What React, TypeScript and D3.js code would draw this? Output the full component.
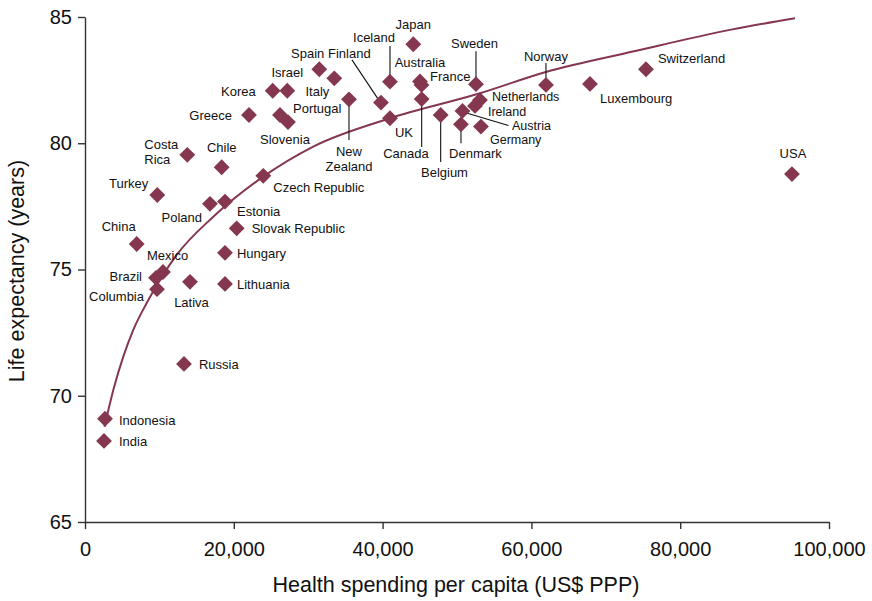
import React, { useEffect, useRef } from "react";
import * as d3 from "d3";

// countries, spending (US$ PPP) and life expectancy
const countries = [
  "India", "Indonesia", "Russia", "Columbia", "Brazil", "Mexico", "Lativa", "Lithuania",
  "Hungary", "Slovak Republic", "Estonia", "Poland", "China", "Turkey", "Costa Rica", "Chile",
  "Czech Republic", "Greece", "Korea", "Israel", "Portugal", "Slovenia", "Spain", "Italy",
  "Finland", "New Zealand", "Iceland", "UK", "Japan", "Australia", "France", "Canada",
  "Belgium", "Sweden", "Denmark", "Austria", "Germany", "Ireland", "Netherlands", "Norway",
  "Luxembourg", "Switzerland", "USA",
];
const spending = [
  2554, 2688, 13306, 9677, 9542, 10483, 14112, 18816,
  18816, 20388, 18816, 16800, 6948, 9717, 13749, 18372,
  23964, 22042, 25227, 27189, 26208, 27283, 31490, 33506,
  39782, 35482, 40992, 40992, 44124, 45024, 45226, 45252,
  47806, 52550, 50534, 50736, 53222, 52416, 53088, 61958,
  67872, 75398, 95021,
];
const lifeExpectancy = [
  68.21, 69.09, 71.26, 74.22, 74.67, 74.9, 74.51, 74.43,
  75.66, 76.63, 77.69, 77.6, 76.01, 77.95, 79.54, 79.05,
  78.71, 81.12, 82.08, 82.08, 81.12, 80.84, 82.93, 82.57,
  81.61, 81.74, 82.44, 80.99, 83.92, 82.45, 82.31, 81.75,
  81.12, 82.34, 80.75, 81.28, 80.66, 81.48, 81.71, 82.31,
  82.35, 82.93, 78.78,
];

// trend curve, points
const trendSpending = [2621, 3804, 5148, 6492, 8292, 12324, 17244, 23964, 30684, 40992, 53088, 62052, 73651, 86688, 95424];
const trendLife = [68.77, 70.23, 71.55, 72.61, 73.67, 75.58, 77.09, 78.68, 79.87, 80.99, 81.98, 82.83, 83.63, 84.49, 84.95];

const xTicks = [0, 20000, 40000, 60000, 80000, 100000];
const yTicks = [65, 70, 75, 80, 85];

type LabelSpec = {
  dx: number;
  dy: number;
  anchor?: string;
  lines?: string[];
  leader?: [number, number, number, number];
  size?: number;
};

// label placement relative to each marker
const labelLayout: Record<string, LabelSpec> = {
  India: { dx: 15, dy: 0 },
  Indonesia: { dx: 14, dy: 1 },
  Russia: { dx: 15, dy: 0 },
  Columbia: { dx: -13, dy: 7, anchor: "end" },
  Brazil: { dx: -14, dy: -2, anchor: "end" },
  Mexico: { dx: -16, dy: -17 },
  Lativa: { dx: 1.5, dy: 20, anchor: "middle" },
  Lithuania: { dx: 12, dy: 0 },
  Hungary: { dx: 12, dy: 0 },
  "Slovak Republic": { dx: 15, dy: 0 },
  Estonia: { dx: 12, dy: 9 },
  Poland: { dx: -8, dy: 13, anchor: "end" },
  China: { dx: -18, dy: -18, anchor: "middle" },
  Turkey: { dx: -9, dy: -12, anchor: "end" },
  "Costa Rica": { dx: -43, dy: -11, lines: ["Costa", "Rica"] },
  Chile: { dx: 0, dy: -20.5, anchor: "middle" },
  "Czech Republic": { dx: 10, dy: 11 },
  Greece: { dx: -17, dy: 0, anchor: "end" },
  Korea: { dx: -17, dy: 0, anchor: "end" },
  Israel: { dx: 0, dy: -19, anchor: "middle" },
  Portugal: { dx: 13, dy: -7 },
  Slovenia: { dx: -3, dy: 17, anchor: "middle" },
  Spain: { dx: 5, dy: -16.6, anchor: "end" },
  Italy: { dx: -5, dy: 13, anchor: "end" },
  Finland: { dx: -53, dy: -50, leader: [-29, -42.7, -3, -3.7] },
  "New Zealand": { dx: 0, dy: 51.4, anchor: "middle", lines: ["New", "Zealand"], leader: [0, 0, 0, 40.7] },
  Iceland: { dx: -16, dy: -44.7, anchor: "middle", leader: [0, -35.7, 0, 0] },
  UK: { dx: 5, dy: 14 },
  Japan: { dx: 0, dy: -20, anchor: "middle" },
  Australia: { dx: 0, dy: -19.2, anchor: "middle" },
  France: { dx: 8.5, dy: -9.3 },
  Canada: { dx: -15.7, dy: 54.3, anchor: "middle", leader: [0, 0, 0, 48] },
  Belgium: { dx: 3.8, dy: 56.7, anchor: "middle", leader: [0, 0, 0, 47] },
  Sweden: { dx: -1.5, dy: -41, anchor: "middle", leader: [0, -33, 0, 0] },
  Denmark: { dx: 14.5, dy: 29, anchor: "middle", leader: [0, 0, 0, 19] },
  Austria: { dx: 49.5, dy: 14.8, leader: [4, 2, 46, 14.5], size: 12.5 },
  Germany: { dx: 9, dy: 13.5, size: 12.5 },
  Ireland: { dx: 13, dy: 5.8, size: 12.5 },
  Netherlands: { dx: 12, dy: -3, size: 12.5 },
  Norway: { dx: 0, dy: -29, anchor: "middle", leader: [0, -22, 0, 0] },
  Luxembourg: { dx: 10, dy: 13.7 },
  Switzerland: { dx: 12, dy: -11.6 },
  USA: { dx: 1, dy: -20.7, anchor: "middle" },
};

const maroon = "#84374e";
const font = "'Liberation Sans', Arial, Helvetica, sans-serif";

export default function App() {
  const ref = useRef<SVGSVGElement>(null);

  useEffect(() => {
    const svg = d3.select(ref.current);
    svg.selectAll("*").remove();

    const x = d3.scaleLinear().domain([0, 100000]).range([85, 829]);
    const y = d3.scaleLinear().domain([65, 85]).range([522, 17]);

    const data = countries.map((c, i) => ({ name: c, x: spending[i], y: lifeExpectancy[i] }));
    const trend = trendSpending.map((s, i) => [s, trendLife[i]] as [number, number]);

    // axes
    svg.append("g")
      .attr("transform", "translate(85,0)")
      .call(d3.axisLeft(y).tickValues(yTicks).tickSize(7).tickSizeOuter(0).tickPadding(6))
      .call((g) => g.selectAll("text").attr("font-size", 20))
      .call((g) => g.selectAll("line,path").attr("stroke", "#333").attr("stroke-width", 1.4));

    svg.append("g")
      .attr("transform", "translate(0,522)")
      .call(d3.axisBottom(x).tickValues(xTicks).tickFormat(d3.format(",")).tickSize(7).tickSizeOuter(0).tickPadding(13))
      .call((g) => g.selectAll("text").attr("font-size", 20))
      .call((g) => g.selectAll("line,path").attr("stroke", "#333").attr("stroke-width", 1.4));

    svg.selectAll(".tick text").attr("fill", "#111").attr("font-family", font);

    svg.append("text")
      .attr("x", 456)
      .attr("y", 585)
      .attr("text-anchor", "middle")
      .attr("dominant-baseline", "central")
      .attr("font-size", 21.5)
      .attr("font-family", font)
      .attr("fill", "#111")
      .text("Health spending per capita (US$ PPP)");

    svg.append("text")
      .attr("transform", "translate(17,271) rotate(-90)")
      .attr("text-anchor", "middle")
      .attr("dominant-baseline", "central")
      .attr("font-size", 21.5)
      .attr("font-family", font)
      .attr("fill", "#111")
      .text("Life expectancy (years)");

    // trend curve
    const line = d3.line<[number, number]>()
      .x((d) => x(d[0]))
      .y((d) => y(d[1]))
      .curve(d3.curveMonotoneX);
    svg.append("path")
      .attr("d", line(trend))
      .attr("fill", "none")
      .attr("stroke", maroon)
      .attr("stroke-width", 2);

    // leaders
    const labels = svg.append("g").attr("font-family", font).attr("font-size", 13).attr("fill", "#111");
    data.forEach((d) => {
      const spec = labelLayout[d.name];
      if (!spec || !spec.leader) return;
      const [x1, y1, x2, y2] = spec.leader;
      labels.append("line")
        .attr("x1", x(d.x) + x1).attr("y1", y(d.y) + y1)
        .attr("x2", x(d.x) + x2).attr("y2", y(d.y) + y2)
        .attr("stroke", "#111").attr("stroke-width", 1.1);
    });

    // markers
    const diamond = d3.symbol().type(d3.symbolSquare).size(125);
    svg.append("g")
      .selectAll("path")
      .data(data)
      .join("path")
      .attr("d", diamond)
      .attr("transform", (d) => `translate(${x(d.x)},${y(d.y)}) rotate(45)`)
      .attr("fill", maroon);

    // country labels
    data.forEach((d) => {
      const spec = labelLayout[d.name];
      const lines = spec.lines ?? [d.name];
      const t = labels.append("text")
        .attr("text-anchor", spec.anchor ?? "start")
        .attr("dominant-baseline", "central");
      if (spec.size) t.attr("font-size", spec.size);
      lines.forEach((ln, i) => {
        t.append("tspan")
          .attr("x", x(d.x) + spec.dx)
          .attr("y", y(d.y) + spec.dy + i * 15.5)
          .text(ln);
      });
    });
  }, []);

  return (
    <svg
      ref={ref}
      width={872}
      height={601}
      style={{ position: "absolute", left: 0, top: 0, background: "#fff" }}
    />
  );
}
